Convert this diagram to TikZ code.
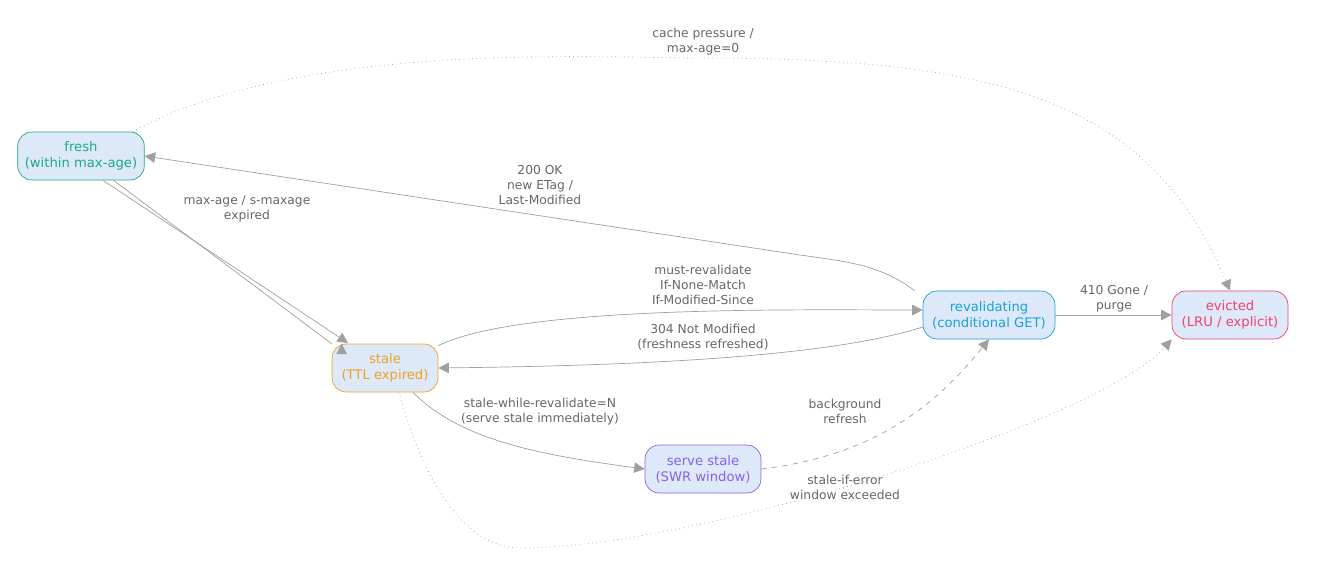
\documentclass[tikz,border=0pt]{standalone}
\usepackage{fontspec}
\setmainfont{DejaVu Sans}
\usetikzlibrary{positioning,arrows.meta}
\definecolor{cfresh}{HTML}{1AAA8A}
\definecolor{cstale}{HTML}{F0A020}
\definecolor{cswr}{HTML}{8A60E8}
\definecolor{creval}{HTML}{1AA0E0}
\definecolor{cevict}{HTML}{F04070}
\definecolor{cfill}{HTML}{DDE9F8}
\definecolor{cedge}{HTML}{A0A0A0}
\tikzset{
  state/.style={draw, fill=cfill, rounded corners=8pt, align=center, font=\fontsize{7.5}{9}\selectfont, minimum height=0.96cm, inner xsep=4pt},
  trans/.style={draw=cedge, -{Triangle[length=6pt,width=6pt]}, fill=none},
  lbl/.style={align=center, text=black!60, font=\fontsize{7}{8.5}\selectfont}
}
\begin{document}
\begin{tikzpicture}[x=0.02cm, y=-0.02cm]
\useasboundingbox (0,0) rectangle (1318,578);
\node[state, draw=cfresh, text=cfresh, minimum width=2.12cm] (fresh) at (81,156) {fresh\\(within max-age)};
\node[state, draw=cstale, text=cstale, minimum width=2.12cm] (stale) at (385,368) {stale\\(TTL expired)};
\node[state, draw=cswr, text=cswr, minimum width=2.32cm] (swr) at (703,469) {serve stale\\(SWR window)};
\node[state, draw=creval, text=creval, minimum width=2.64cm] (reval) at (989,315) {revalidating\\(conditional GET)};
\node[state, draw=cevict, text=cevict, minimum width=2.32cm] (evict) at (1230,315) {evicted\\(LRU / explicit)};

\draw[trans, dotted] (fresh.north east) ++(-12,0) .. controls (300,40) and (600,58) .. (700,58)
  .. controls (1000,58) and (1150,100) .. (evict.north);
\node[lbl] (l1) at (703,42) {cache pressure /\\max-age=0};
\draw[trans] (reval.north west) ++(-8,0) .. controls (880,265) and (850,262) .. (800,255) -- (fresh.east);
\node[lbl] (l2) at (540,185) {200 OK\\new ETag /\\Last-Modified};
\draw[trans] (fresh) -- (stale.north west) ++(10,0);
\draw[trans] (fresh.south) ++(22,0) -- (348,343);
\node[lbl] (l3) at (247,209) {max-age / s-maxage\\expired};
\draw[trans] (stale.north east) ++(0,2) .. controls (520,305) and (800,310) .. (reval.west |- 0,310);
\node[lbl] (l4) at (703,285) {must-revalidate\\If-None-Match\\If-Modified-Since};
\draw[trans] (reval.west |- 0,327) .. controls (820,360) and (600,366) .. (stale.east |- 0,368);
\node[lbl] (l5) at (703,337) {304 Not Modified\\(freshness refreshed)};
\draw[trans] (reval) -- (evict);
\node[lbl] (l6) at (1114,299) {410 Gone /\\purge};
\draw[trans] (stale.south) ++(28,0) .. controls (460,440) and (540,455) .. (swr.west);
\node[lbl] (l7) at (540,412) {stale-while-revalidate=N\\(serve stale immediately)};
\draw[trans, dashed] (swr.east) .. controls (880,455) and (940,400) .. (reval.south);
\node[lbl] (l8) at (845,411) {background\\refresh};
\draw[trans, dotted] (stale.south) ++(14,0) .. controls (420,470) and (460,548) .. (520,548)
  .. controls (700,548) and (1100,420) .. (evict.south west);
\node[lbl] (l9) at (845,487) {stale-if-error\\window exceeded};
\end{tikzpicture}
\end{document}
